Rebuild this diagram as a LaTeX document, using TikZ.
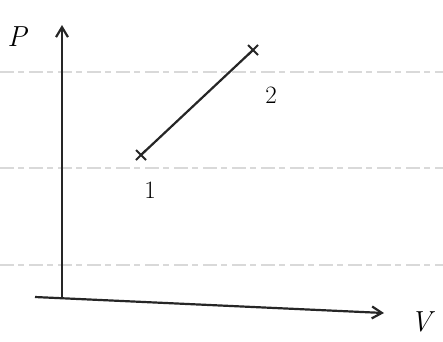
\documentclass[tikz,border=0pt]{standalone}
\usetikzlibrary{arrows.meta,calc}
\begin{document}
\begin{tikzpicture}[x=1pt,y=-1pt,
  axis/.style={line width=2.2pt,black!85,-{Straight Barb[length=10pt,width=12pt]}},
  ruled/.style={line width=1.2pt,black!15,dash pattern=on 14pt off 4pt on 6pt off 5pt},
  process/.style={line width=2.2pt,black!85},
  lbl/.style={font=\fontsize{29}{31}\selectfont\itshape,inner sep=0pt},
  numlbl/.style={font=\fontsize{25}{27}\selectfont,inner sep=0pt},
  xmark/.style={line width=2pt,black!85}]
\useasboundingbox (0,0) rectangle (443,341);
\fill[white] (0,0) rectangle (443,341);
% ruled paper lines
\coordinate (r1a) at (0,72);  \coordinate (r1b) at (443,72);
\coordinate (r2a) at (0,168); \coordinate (r2b) at (443,168);
\coordinate (r3a) at (0,265); \coordinate (r3b) at (443,265);
\draw[ruled] (r1a) -- (r1b);
\draw[ruled] (r2a) -- (r2b);
\draw[ruled] (r3a) -- (r3b);
% axes
\coordinate (O) at (62,298);
\coordinate (Ptip) at (62,25);
\coordinate (Vstart) at (35,297);
\coordinate (Vtip) at (384,313);
\draw[axis] (O) -- (Ptip);
\draw[axis] (Vstart) -- (Vtip);
\node[lbl] (P) at (17,37) {P};
\node[lbl] (V) at (421,322) {V};
% states
\coordinate (s1) at (141,155);
\coordinate (s2) at (253,50);
\draw[process] (s1) -- (s2);
\draw[xmark] ($(s1)+(-5,-5)$) -- ($(s1)+(5,5)$) ($(s1)+(-5,5)$) -- ($(s1)+(5,-5)$);
\draw[xmark] ($(s2)+(-5,-5)$) -- ($(s2)+(5,5)$) ($(s2)+(-5,5)$) -- ($(s2)+(5,-5)$);
\node[numlbl] (n1) at (150,190) {1};
\node[numlbl] (n2) at (271,95) {2};
\end{tikzpicture}
\end{document}
